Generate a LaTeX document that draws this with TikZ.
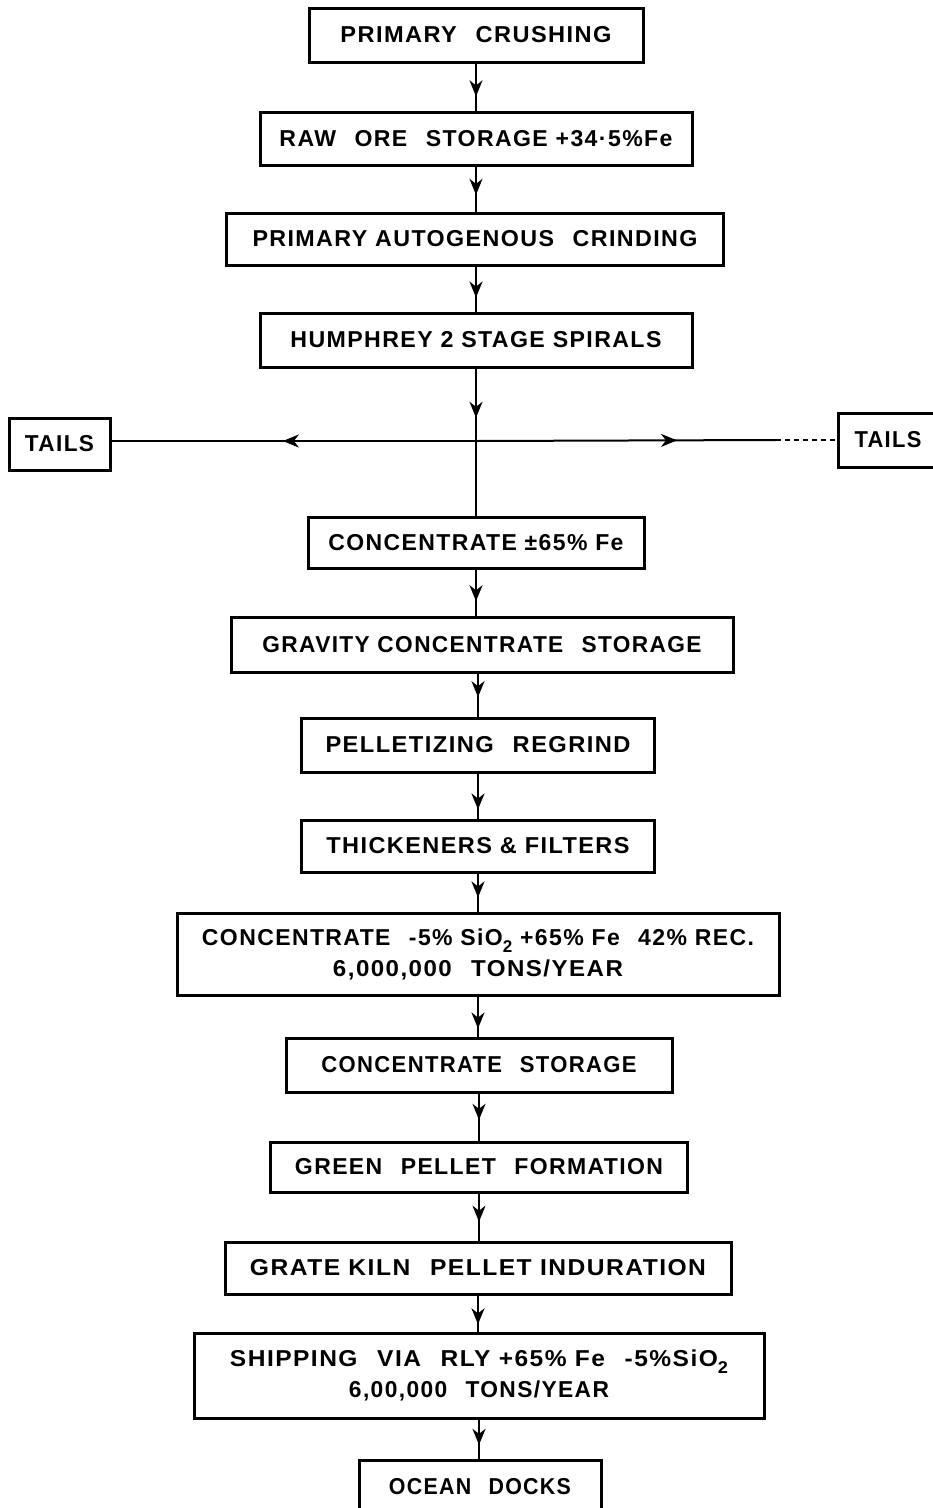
\documentclass[tikz,border=0pt]{standalone}
\usepackage{fontspec}
\usepackage{graphicx}
\setmainfont{Liberation Sans}
\newfontfamily\labfont{Liberation Sans}[LetterSpace=6]
\usetikzlibrary{arrows.meta,decorations.markings}
\newcommand{\fw}[2]{\resizebox{#1pt}{\height}{#2}}
\newcommand{\subtwo}{\raisebox{-0.6ex}{\fontsize{17}{17}\selectfont 2}}
\newcommand{\gap}{\hspace{0.8em}}
\begin{document}
\begin{tikzpicture}[x=1pt,y=-1pt,
  box/.style={draw, line width=3pt, inner sep=0pt, align=center,
    font=\labfont\bfseries\fontsize{23}{31}\selectfont},
  conn/.style={line width=2pt},
  flow/.style={conn, postaction={decorate}, decoration={markings,
    mark=at position #1 with {\arrow{Stealth[length=16pt,width=13pt,inset=5pt]}}}},
  flow/.default=0.65]
\useasboundingbox (0,0) rectangle (933,1508);
\clip (0,0) rectangle (933,1508);

\node[box, minimum width=334pt, minimum height=54pt] (n1) at (476,35)
  {\fw{271}{PRIMARY\gap CRUSHING}};
\node[box, minimum width=432pt, minimum height=53pt] (n2) at (476,138.5)
  {\fw{393}{RAW\gap ORE\gap STORAGE +34·5\%Fe}};
\node[box, minimum width=497pt, minimum height=52pt] (n3) at (475,239)
  {\fw{445}{PRIMARY AUTOGENOUS\gap CRINDING}};
\node[box, minimum width=432pt, minimum height=54pt] (n4) at (476,340)
  {\fw{371}{HUMPHREY 2 STAGE SPIRALS}};
\node[box, minimum width=101pt, minimum height=52pt] (tl) at (59.5,444)
  {\fw{69}{TAILS}};
\node[box, minimum width=100pt, minimum height=54pt] (tr) at (888,440)
  {\fw{67}{TAILS}};
\node[box, minimum width=336pt, minimum height=51pt] (n5) at (476,542.5)
  {\fw{295}{CONCENTRATE ±65\% Fe}};
\node[box, minimum width=502pt, minimum height=55pt] (n6) at (482,644.5)
  {\fw{439}{GRAVITY CONCENTRATE\gap STORAGE}};
\node[box, minimum width=353pt, minimum height=54pt] (n7) at (478,745)
  {\fw{305}{PELLETIZING\gap REGRIND}};
\node[box, minimum width=353pt, minimum height=52pt] (n8) at (478,846)
  {\fw{303}{THICKENERS \& FILTERS}};
\node[box, minimum width=602pt, minimum height=82pt] (n9) at (478,954)
  {\fw{552}{CONCENTRATE\gap -5\% SiO\subtwo{} +65\% Fe\gap 42\% REC.}\\
   \fw{290}{6,000,000\gap TONS/YEAR}};
\node[box, minimum width=386pt, minimum height=54pt] (n10) at (479,1065)
  {\fw{315}{CONCENTRATE\gap STORAGE}};
\node[box, minimum width=417pt, minimum height=50pt] (n11) at (479,1167)
  {\fw{368}{GREEN\gap PELLET\gap FORMATION}};
\node[box, minimum width=506pt, minimum height=52pt] (n12) at (478,1268)
  {\fw{456}{GRATE KILN\gap PELLET INDURATION}};
\node[box, minimum width=570pt, minimum height=85pt] (n13) at (479,1375.5)
  {\fw{498}{SHIPPING\gap VIA\gap RLY +65\% Fe\gap -5\%SiO\subtwo}\\
   \fw{260}{6,00,000\gap TONS/YEAR}};
\node[box, minimum width=242pt, minimum height=54pt] (n14) at (480,1487)
  {\fw{182}{OCEAN\gap DOCKS}};

\draw[flow=0.7] (n1.south) -- (n1.south |- n2.north);
\draw[flow=0.63] (n2.south) -- (n2.south |- n3.north);
\draw[flow=0.69] (n4.north |- n3.south) -- (n4.north);

\coordinate (J) at (476,441);
\coordinate (rd) at (776,440);
\draw[flow=0.68] (n4.south) -- (J);
\draw[conn] (J) -- (J |- n5.north);
\draw[flow=0.53] (J) -- (J -| tl.east);
\draw[flow=0.67] (J) -- (rd);
\draw[line width=1.3pt, dash pattern=on 5pt off 4pt] (rd) -- (rd -| tr.west);

\draw[flow=0.69] (n5.south) -- (n5.south |- n6.north);
\draw[flow=0.55] (n7.north |- n6.south) -- (n7.north);
\draw[flow=0.8] (n7.south) -- (n7.south |- n8.north);
\draw[flow=0.63] (n8.south) -- (n8.south |- n9.north);
\draw[flow=0.8] (n9.south) -- (n9.south |- n10.north);
\draw[flow=0.56] (n10.south) -- (n10.south |- n11.north);
\draw[flow=0.6] (n11.south) -- (n11.south |- n12.north);
\draw[flow=0.8] (n12.south) -- (n12.south |- n13.north);
\draw[flow=0.65] (n13.south) -- (n13.south |- n14.north);
\end{tikzpicture}
\end{document}
